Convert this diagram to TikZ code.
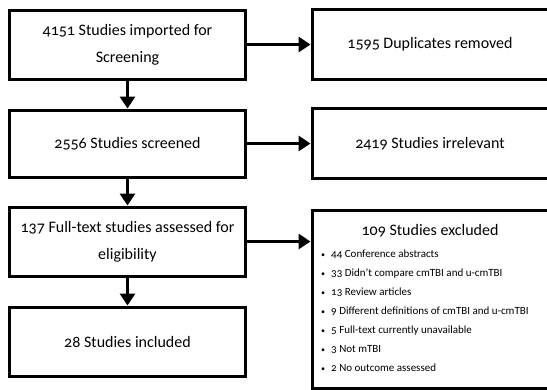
\documentclass[tikz,border=0pt]{standalone}
\usepackage{fontspec}
\setmainfont[Numbers=OldStyle]{Carlito}
\usetikzlibrary{arrows.meta}
\begin{document}
\begin{tikzpicture}[x=1pt,y=-1pt,
  box/.style={draw, line width=3pt, rectangle, inner sep=0pt, align=center,
    minimum width=236pt, font=\fontsize{16}{27}\selectfont},
  arr/.style={line width=3pt, -{Triangle[length=12pt,width=15pt]}},
  title/.style={inner sep=0pt, font=\fontsize{16}{18}\selectfont},
  item/.style={anchor=base west, inner sep=0pt, font=\fontsize{11}{13}\selectfont}]
\useasboundingbox (0,0) rectangle (547,389);
\begin{scope}
\clip (0,0) rectangle (547,389);
\node[box, minimum height=69pt] (b1) at (127.5,44.5) {4151 Studies imported for\\Screening};
\node[box, minimum height=67pt] (b2) at (127.5,143.5) {2556 Studies screened};
\node[box, minimum height=69pt] (b3) at (127.5,241.5) {137 Full-text studies assessed for\\eligibility};
\node[box, minimum height=69pt] (b4) at (127.5,341.5) {28 Studies included};
\node[box, minimum height=70pt] (r1) at (430,44.5) {1595 Duplicates removed};
\node[box, minimum height=70pt] (r2) at (430,143.5) {2419 Studies irrelevant};
\node[box, minimum height=178pt] (r3) at (430,299) {};
\node[title] (t3) at (430,231) {109 Studies excluded};
\foreach \txt [count=\i] in {44 Conference abstracts,
  33 Didn't compare cmTBI and u-cmTBI,
  13 Review articles,
  9 Different definitions of cmTBI and u-cmTBI,
  5 Full-text currently unavailable,
  3 Not mTBI,
  2 No outcome assessed}
  \node[item] (i\i) at (321,238+19*\i) {\makebox[10pt][l]{\fontsize{8}{8}\selectfont•}\txt};
\draw[arr] (b1.south) -- (b2.north);
\draw[arr] (b2.south) -- (b3.north);
\draw[arr] (b3.south) -- (b4.north);
\draw[arr] (b1.east) -- (r1.west);
\draw[arr] (b2.east) -- (r2.west);
\draw[arr] (b3.east) -- (b3.east -| r3.west);
\end{scope}
\end{tikzpicture}
\end{document}
